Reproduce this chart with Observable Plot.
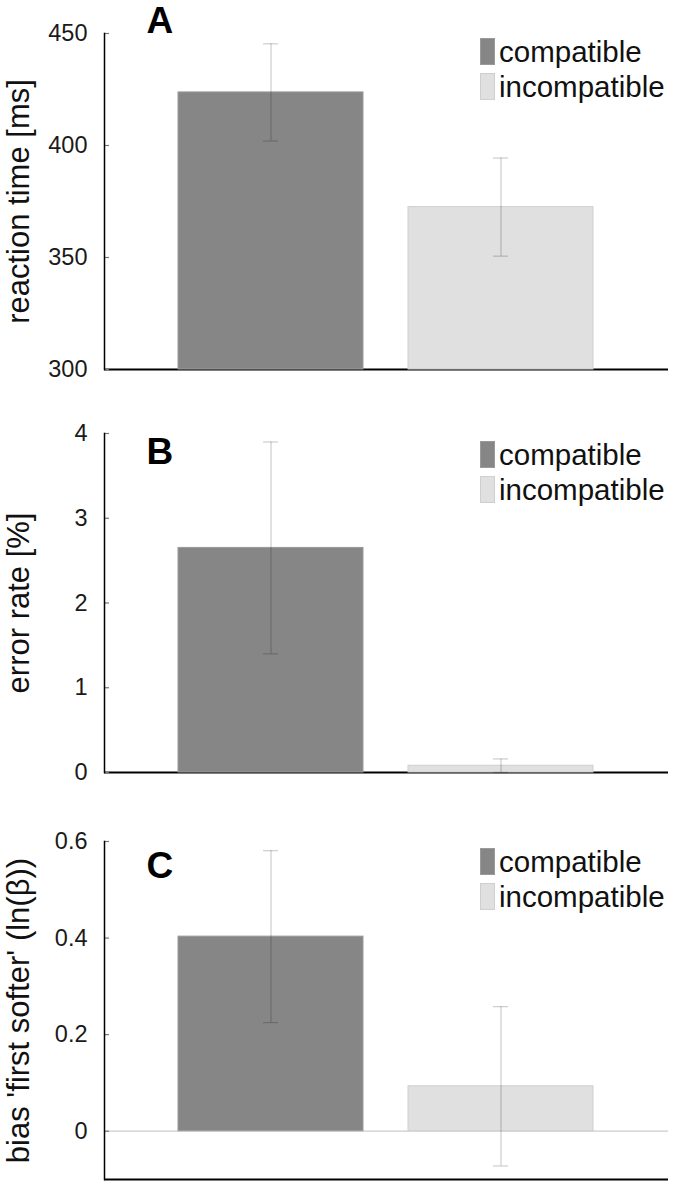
<!DOCTYPE html>
<html><head><meta charset="utf-8">
<script src="https://cdn.jsdelivr.net/npm/d3@7"></script>
<script src="https://cdn.jsdelivr.net/npm/@observablehq/plot@0.6"></script>
<style>
body{margin:0;background:#fff;font-family:"Liberation Sans",Arial,sans-serif;}
.panel{position:relative;width:675px;height:394px;overflow:visible;}
.panel svg{display:block;overflow:visible;}
.sw{position:absolute;left:480px;width:15px;height:27px;box-sizing:border-box;}
.lt{position:absolute;left:499px;font-size:29.5px;line-height:27px;color:#111;white-space:nowrap;}
</style></head><body><div id="root"></div>
<script>
// ---- data ----
const conditions = ["compatible", "incompatible"];
const barColors = ["#868686", "#e0e0e0"];
const barEdges = ["#9a9a9a", "#cfcfcf"];
const rtMeans = [423.7, 372.5];
const rtErrors = [21.7, 21.9];
const errMeans = [2.65, 0.08];
const errErrors = [1.25, 0.08];
const biasMeans = [0.403, 0.093];
const biasErrors = [0.178, 0.165];
const rtTicks = [300, 350, 400, 450];
const errTicks = [0, 1, 2, 3, 4];
const biasTicks = [0, 0.2, 0.4, 0.6];
const panelLetters = ["A", "B", "C"];
const yLabels = ["reaction time [ms]", "error rate [%]", "bias 'first softer' (ln(\u03B2))"];

const W = 675, H = 394, ML = 104, MR = 7;
const panels = [
  {letter: panelLetters[0], label: yLabels[0], means: rtMeans, errs: rtErrors, ticks: rtTicks,
   domain: [300, 450], base: 300, mt: 33, mb: 25, letterY: 32, legendTop: 38, zero: false},
  {letter: panelLetters[1], label: yLabels[1], means: errMeans, errs: errErrors, ticks: errTicks,
   domain: [0, 4], base: 0, mt: 39, mb: 16, letterY: 69, legendTop: 47, zero: false},
  {letter: panelLetters[2], label: yLabels[2], means: biasMeans, errs: biasErrors, ticks: biasTicks,
   domain: [-0.1, 0.6], base: 0, mt: 53, mb: 3, letterY: 89, legendTop: 60, zero: true}
];

const root = document.getElementById("root");
for (const p of panels) {
  const data = conditions.map((c, i) => ({c, m: p.means[i], e: p.errs[i], fill: barColors[i], edge: barEdges[i]}));
  const fw = W - ML - MR;
  const capInset = 85;
  const marks = [];
  if (p.zero) marks.push(Plot.ruleY([0], {stroke: "#cccccc", strokeWidth: 1.3}));
  marks.push(Plot.ruleY([p.domain[0]], {stroke: "#000", strokeWidth: 2}));
  marks.push(Plot.barY(data, {x: "c", y1: p.base, y2: "m", fill: d => d.fill, stroke: d => d.edge, strokeWidth: 1}));
  marks.push(Plot.ruleX(data, {x: "c", y1: d => d.m - d.e, y2: d => d.m + d.e, stroke: "#000", strokeOpacity: 0.2, strokeWidth: 1.2}));
  marks.push(Plot.tickY(data, {x: "c", y: d => d.m + d.e, insetLeft: capInset, insetRight: capInset, stroke: "#000", strokeOpacity: 0.2, strokeWidth: 1.2}));
  marks.push(Plot.tickY(data, {x: "c", y: d => d.m - d.e, insetLeft: capInset, insetRight: capInset, stroke: "#000", strokeOpacity: 0.2, strokeWidth: 1.2}));
  marks.push(Plot.tickY(p.ticks, {y: d => d, insetRight: fw - 5, stroke: "#777", strokeWidth: 1.2}));
  marks.push(Plot.frame({anchor: "left", stroke: "#000", strokeWidth: 1.5}));
  marks.push(Plot.axisY({ticks: p.ticks, tickSize: 0, tickPadding: 17, fontSize: 23.5, color: "#1a1a1a", tickFormat: d => String(d), label: null}));
  marks.push(Plot.text([p.label], {frameAnchor: "left", dx: 19 - ML, rotate: -90, fontSize: 31, textAnchor: "middle", lineAnchor: "middle", fill: "#111"}));
  marks.push(Plot.text([p.letter], {frameAnchor: "top-left", dx: 146 - ML, dy: p.letterY - p.mt, lineAnchor: "bottom", textAnchor: "start", fontSize: 37, fontWeight: "bold", fill: "#000"}));

  const chart = Plot.plot({
    width: W, height: H,
    marginLeft: ML, marginRight: MR, marginTop: p.mt, marginBottom: p.mb,
    style: {fontFamily: "'Liberation Sans', Arial, sans-serif", background: "#fff", overflow: "visible"},
    x: {type: "band", domain: conditions, paddingInner: 0.194, paddingOuter: 0.319, axis: null},
    y: {domain: p.domain, axis: null},
    marks
  });
  const div = document.createElement("div");
  div.className = "panel";
  div.appendChild(chart);
  conditions.forEach((c, i) => {
    const top = p.legendTop + i * 35;
    const sw = document.createElement("div");
    sw.className = "sw"; sw.style.top = top + "px"; sw.style.background = barColors[i];
    sw.style.border = "1px solid " + barEdges[i];
    const t = document.createElement("div");
    t.className = "lt"; t.style.top = top + "px"; t.textContent = c;
    div.appendChild(sw); div.appendChild(t);
  });
  root.appendChild(div);
}
</script></body></html>
